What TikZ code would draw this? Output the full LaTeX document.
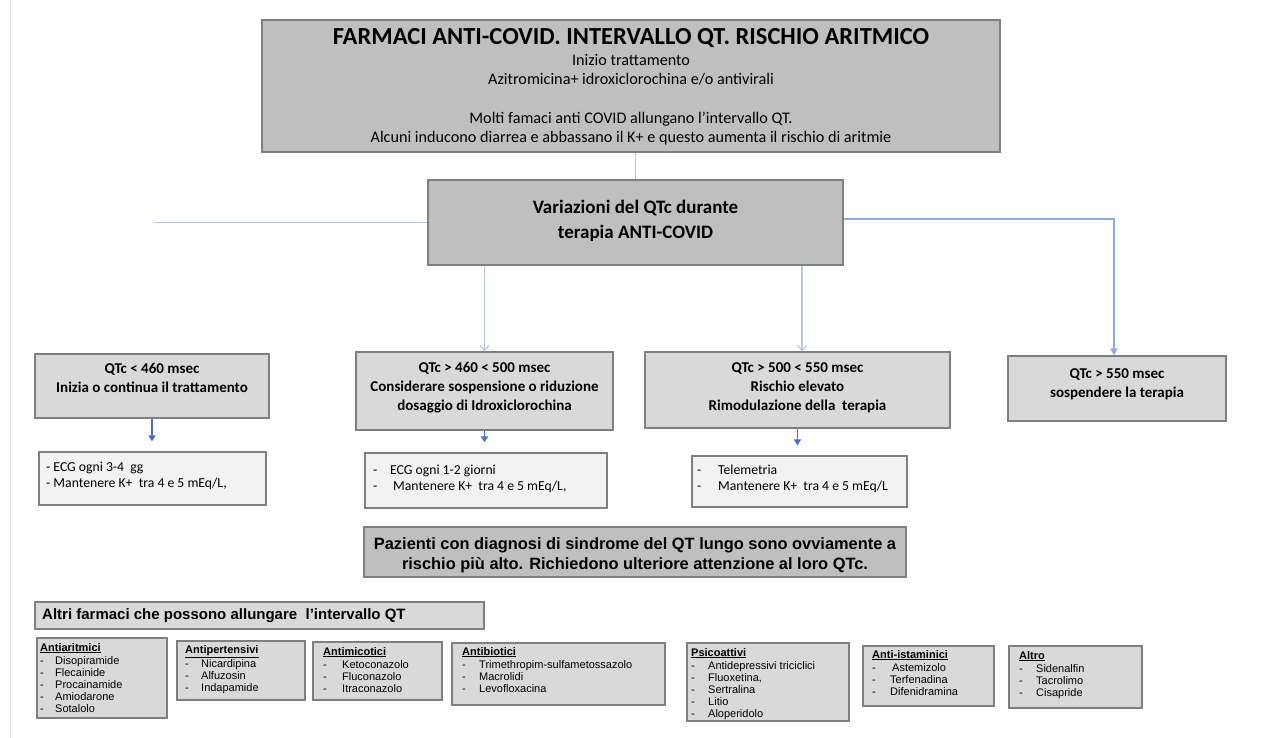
\documentclass[tikz,border=0pt]{standalone}
\usepackage{fontspec}
\setmainfont{Carlito}
\newfontfamily\arialf{Liberation Sans}
\usetikzlibrary{arrows.meta,fit}
\definecolor{gdark}{HTML}{BFBFBF}
\definecolor{gmid}{HTML}{D9D9D9}
\definecolor{glight}{HTML}{F2F2F2}
\definecolor{bord}{HTML}{7F7F7F}
\definecolor{conlight}{HTML}{B4C7E7}
\definecolor{conmid}{HTML}{8FAADC}
\definecolor{conblue}{HTML}{4472C4}
\newcommand\fs[2]{\fontsize{#1}{#2}\selectfont}
\newcommand\dli[2][16pt]{\makebox[#1][l]{-}#2}
\begin{document}
\begin{tikzpicture}[x=1pt,y=-1pt,
  box/.style={draw=bord,line width=1.2pt,inner sep=0pt},
  ctxt/.style={inner sep=0pt,align=center},
  txt/.style={inner sep=0pt,anchor=north west,align=left},
  lst/.style={txt,font=\arialf\fs{11}{12}},
  conn/.style={line width=1.3pt}]
\useasboundingbox[fill=white] (0,0) rectangle (1282,738);
\draw[black!12,line width=1pt] (10,0) -- (10,738);

% top
\node[box,fill=gdark,fit={(262,20)(1000,152)}] (top) {};
\node[ctxt,font=\fs{16.2}{19.5}] (topt) at ([yshift=-1pt]top.center)
 {{\fs{24.5}{24.5}\bfseries FARMACI ANTI-COVID. INTERVALLO QT. RISCHIO ARITMICO}\\[1pt]
  Inizio trattamento\\
  Azitromicina+ idroxiclorochina e/o antivirali\\[19pt]
  Molti famaci anti COVID allungano l’intervallo QT.\\
  Alcuni inducono diarrea e abbassano il K+ e questo aumenta il rischio di aritmie};

\node[box,fill=gdark,fit={(428,180)(843,265)}] (mid) {};
\node[ctxt,font=\bfseries\fs{19}{25}] (midt) at ([yshift=2pt]mid.center) {Variazioni del QTc durante\\terapia ANTI-COVID};

% QTc boxes
\node[box,fill=gmid,fit={(35,354)(269,418)}] (q1) {};
\node[box,fill=gmid,fit={(356,352)(613,430)}] (q2) {};
\node[box,fill=gmid,fit={(645,352)(950,428)}] (q3) {};
\node[box,fill=gmid,fit={(1008,356)(1226,421)}] (q4) {};
\begin{scope}[every node/.append style={ctxt,font=\bfseries\fs{15}{19}}]
\node (q1t) at ([yshift=8.5pt]q1.center) {QTc < 460 msec\\Inizia o continua il trattamento};
\node (q2t) at ([yshift=3pt]q2.center) {QTc > 460 < 500 msec\\Considerare sospensione o riduzione\\dosaggio di Idroxiclorochina};
\node (q3t) at ([yshift=2pt]q3.center) {QTc > 500 < 550 msec\\Rischio elevato\\Rimodulazione della\ \ terapia};
\node (q4t) at ([yshift=4pt]q4.center) {QTc > 550 msec\\sospendere la terapia};
\end{scope}

% ECG boxes
\node[box,fill=glight,fit={(39,452)(266,505)}] (e1) {};
\node[txt,font=\fs{13.7}{16}] (e1t) at (46,461.5) {- ECG ogni 3-4\ \ gg\\- Mantenere K+\ \ tra 4 e 5 mEq/L,};
\node[box,fill=glight,fit={(365,453)(607,508)}] (e2) {};
\node[txt,font=\fs{13.7}{16}] (e2t) at (373,464.5) {\dli[17pt]{ECG ogni 1-2 giorni}\\\dli[20pt]{Mantenere K+\ \ tra 4 e 5 mEq/L,}};
\node[box,fill=glight,fit={(692,456)(907,507)}] (e3) {};
\node[txt,font=\fs{13.7}{16}] (e3t) at (697,464.5) {\dli[21pt]{Telemetria}\\\dli[21pt]{Mantenere K+\ \ tra 4 e 5 mEq/L}};

% long QT
\node[box,fill=gdark,fit={(364,527)(906,577)}] (lqt) {};
\node[ctxt,font=\arialf\bfseries\fs{16.4}{20}] (lqtt) at ([yshift=-3.5pt]lqt.center)
 {Pazienti con diagnosi di sindrome del QT lungo sono ovviamente a\\rischio più alto. Richiedono ulteriore attenzione al loro QTc.};

% other drugs
\node[box,fill=gmid,fit={(35,602)(484,629)}] (altri) {};
\node[inner sep=0pt,anchor=west,font=\arialf\bfseries\fs{15}{18}] (altrit) at (42,615.5) {Altri farmaci che possono allungare\ \ l’intervallo QT};

\node[box,fill=gmid,fit={(37,638)(167,718)}] (b1) {};
\node[lst] (b1t) at (40,643) {\underline{\textbf{Antiaritmici}}\\[1.5pt]\dli[15pt]{Disopiramide}\\\dli[15pt]{Flecainide}\\\dli[15pt]{Procainamide}\\\dli[15pt]{Amiodarone}\\\dli[15pt]{Sotalolo}};
\node[box,fill=gmid,fit={(177,641)(305,700)}] (b2) {};
\node[lst] (b2t) at (185,645) {\underline{\textbf{Antipertensivi}}\\[1.5pt]\dli[16pt]{Nicardipina}\\\dli[16pt]{Alfuzosin}\\\dli[16pt]{Indapamide}};
\node[box,fill=gmid,fit={(313,642)(442,700)}] (b3) {};
\node[lst] (b3t) at (323,647) {\underline{\textbf{Antimicotici}}\\[1.5pt]\dli[19pt]{Ketoconazolo}\\\dli[19pt]{Fluconazolo}\\\dli[19pt]{Itraconazolo}};
\node[box,fill=gmid,fit={(452,643)(665,705)}] (b4) {};
\node[lst] (b4t) at (462,647) {\underline{\textbf{Antibiotici}}\\[1.5pt]\dli[17pt]{Trimethropim-sulfametossazolo}\\\dli[17pt]{Macrolidi}\\\dli[17pt]{Levofloxacina}};
\node[box,fill=gmid,fit={(687,643)(849,721)}] (b5) {};
\node[lst] (b5t) at (691,648) {\underline{\textbf{Psicoattivi}}\\[1.5pt]\dli[17pt]{Antidepressivi triciclici}\\\dli[17pt]{Fluoxetina,}\\\dli[17pt]{Sertralina}\\\dli[17pt]{Litio}\\\dli[17pt]{Aloperidolo}};
\node[box,fill=gmid,fit={(863,646)(994,706)}] (b6) {};
\node[lst] (b6t) at (872,650) {\underline{\textbf{Anti-istaminici}}\\[1.5pt]\dli[20pt]{Astemizolo}\\\dli[18pt]{Terfenadina}\\\dli[18pt]{Difenidramina}};
\node[box,fill=gmid,fit={(1009,646)(1142,708)}] (b7) {};
\node[lst] (b7t) at (1019,651) {\underline{\textbf{Altro}}\\[1.5pt]\dli[17pt]{Sidenalfin}\\\dli[17pt]{Tacrolimo}\\\dli[17pt]{Cisapride}};

% connectors
\coordinate (lend) at (154,222.5);
\coordinate (rturn) at (1114,219);
\coordinate (q3in) at (802,0);
\draw[conn,draw=conlight] (top.south -| mid.north) -- (mid.north);
\draw[conn,draw=conlight] (mid.west) -- (lend);
\draw[conn,draw=conmid,-{Triangle[length=7pt,width=7pt]}] (mid.east |- rturn) -- (rturn) -- (q4.north -| rturn);
\draw[conn,draw=conlight,-{Straight Barb[length=5pt,width=9pt]}] (mid.south -| q2.north) -- (q2.north);
\draw[conn,draw=conlight,-{Straight Barb[length=5pt,width=9pt]}] (mid.south -| q3in) -- (q3.north -| q3in);
\draw[conn,draw=conblue,-{Triangle[length=6pt,width=7pt]},shorten >=10pt] (q1.south) -- (q1.south |- e1.north);
\draw[conn,draw=conblue,-{Triangle[length=6pt,width=7pt]},shorten >=10pt] (q2.south) -- (q2.south |- e2.north);
\draw[conn,draw=conblue,-{Triangle[length=6pt,width=7pt]},shorten >=10pt] (q3.south) -- (q3.south |- e3.north);
\end{tikzpicture}
\end{document}
